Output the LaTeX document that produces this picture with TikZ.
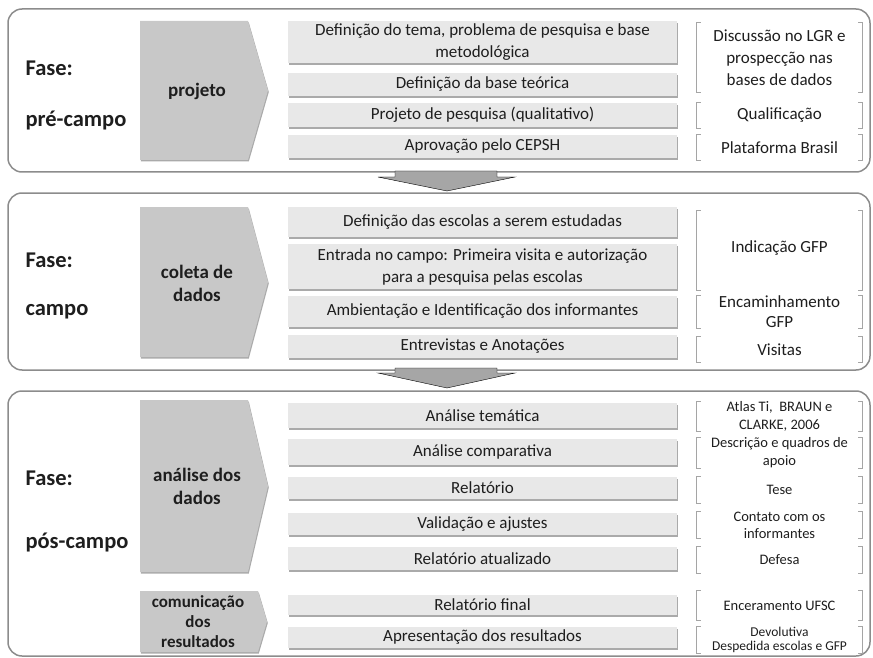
\documentclass[tikz,border=0pt]{standalone}
\usepackage{fontspec}
\setmainfont{Carlito}
\usetikzlibrary{shadows}

\definecolor{framegray}{RGB}{140,140,140}
\definecolor{stagegray}{RGB}{200,200,200}
\definecolor{bargray}{RGB}{232,232,232}
\definecolor{shadegray}{RGB}{170,170,170}
\definecolor{arrowgray}{RGB}{166,166,166}
\definecolor{brackgray}{RGB}{165,165,165}
\definecolor{inkgray}{RGB}{30,30,30}

\tikzset{
  panel/.style={draw=framegray, line width=1.5pt, rounded corners=14pt},
  stage/.style={fill=stagegray, drop shadow={shadow xshift=0.8pt, shadow yshift=-1.5pt, fill=shadegray, opacity=1}},
  stagelbl/.style={text=inkgray, align=center, font=\fontsize{19}{23}\selectfont\bfseries},
  bar/.style={fill=bargray, text=inkgray, minimum width=389pt, inner sep=0pt, align=center,
    font=\fontsize{17}{22}\selectfont,
    drop shadow={shadow xshift=0.8pt, shadow yshift=-1.8pt, fill=shadegray, opacity=1}},
  fase/.style={text=inkgray, anchor=base west, font=\fontsize{22.5}{26}\selectfont\bfseries},
  brack/.style={draw=brackgray, line width=0.7pt},
  tool/.style={text=inkgray, minimum width=165pt, inner sep=0pt, align=center},
  flow/.style={fill=arrowgray},
}

\begin{document}
\begin{tikzpicture}[x=1pt, y=-1pt]
  \useasboundingbox (0,0) rectangle (873,658);

  % frames of the three phases
  \draw[panel] (8,9) rectangle (870,172);
  \draw[panel] (8,193) rectangle (870,370);
  \draw[panel] (8,391) rectangle (870,656);

  % arrows between phases
  \draw[flow] (395,171) -- (497,171) -- (497,177) -- (515,177) -- (447,191)
              -- (378,177) -- (395,177) -- cycle;
  \draw[flow] (395,368) -- (497,368) -- (497,373) -- (515,373) -- (447,388)
              -- (378,373) -- (395,373) -- cycle;

  % phase names
  \node[fase] (f1) at (22,76)  {Fase:};
  \node[fase] (p1) at (22,127) {pré-campo};
  \node[fase] (f2) at (22,267) {Fase:};
  \node[fase] (p2) at (22,315) {campo};
  \node[fase] (f3) at (22,485) {Fase:};
  \node[fase] (p3) at (22,548) {pós-campo};

  % stages (chevrons)
  \foreach \t/\b/\s/\e in {21/160/248/268, 207/357/248/268, 400/572/248/268, 591/652/258/267}
    \fill[stage] (140,\t) -- (\s,\t) -- (\e,{(\t+\b)/2}) -- (\s,\b) -- (140,\b) -- cycle;
  \node[stagelbl] (s1) at (197,91)  {projeto};
  \node[stagelbl] (s2) at (197,283) {coleta de\\dados};
  \node[stagelbl] (s3) at (197,486) {análise dos\\dados};
  \node[stagelbl, font=\fontsize{17}{20}\selectfont\bfseries] (s4) at (198,622)
    {comunicação\\dos\\resultados};

  % activities
  \foreach \t/\b/\txt [count=\i] in {
      21/63/{Definição do tema, problema de pesquisa e base\\metodológica},
      73/96/{Definição da base teórica},
      103/127/{Projeto de pesquisa (qualitativo)},
      135/158/{Aprovação pelo CEPSH},
      207/237/{Definição das escolas a serem estudadas},
      244/289/{Entrada no campo: Primeira visita e autorização\\para a pesquisa pelas escolas},
      296/327/{Ambientação e Identificação dos informantes},
      335/358/{Entrevistas e Anotações},
      403/428/{Análise temática},
      439/465/{Análise comparativa},
      477/499/{Relatório},
      513/535/{Validação e ajustes},
      547/570/{Relatório atualizado},
      595/615/{Relatório final},
      627/648/{Apresentação dos resultados}}
    \node[bar, minimum height={(\b-\t)*1pt}] (a\i) at (482.5,{(\t+\b)/2}) {\txt};

  % means / instruments, in brackets
  \foreach \t/\b/\txt/\fs/\ls [count=\i] in {
      23/92/{Discussão no LGR e\\prospecção nas\\bases de dados}/17/22,
      103/128/{Qualificação}/17/22,
      135/160/{Plataforma Brasil}/17/22,
      211/290/{\raisebox{8pt}{Indicação GFP}}/17/22,
      297/327/{Encaminhamento\\GFP}/17/20,
      337/362/{Visitas}/17/22,
      403/430/{Atlas Ti,\ \ BRAUN e\\CLARKE, 2006}/14.5/18,
      439/467/{Descrição e quadros de\\apoio}/14.5/18,
      477/503/{Tese}/14.5/18,
      513/537/{Contato com os\\informantes}/14.5/17,
      547/573/{Defesa}/14.5/18,
      591/620/{Enceramento UFSC}/14.5/18,
      627/653/{Devolutiva\\Despedida escolas e GFP}/13.5/14}
  {
    \node[tool, font=\fontsize{\fs}{\ls}\selectfont, minimum height={(\b-\t)*1pt}]
      (r\i) at (779.5,{(\t+\b)/2}) {\txt};
    \draw[brack] ([xshift=4pt]r\i.north west) -- (r\i.north west) -- (r\i.south west)
                 -- ([xshift=4pt]r\i.south west);
    \draw[brack] ([xshift=-4pt]r\i.north east) -- (r\i.north east) -- (r\i.south east)
                 -- ([xshift=-4pt]r\i.south east);
  }
\end{tikzpicture}
\end{document}
